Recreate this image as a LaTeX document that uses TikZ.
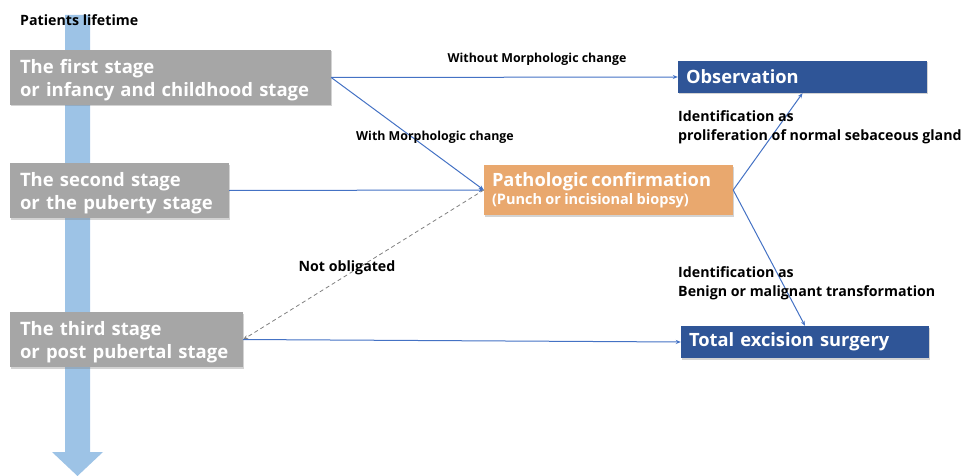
\documentclass[tikz,border=0pt]{standalone}
\usepackage{fontspec}
\setmainfont{Open Sans}
\usetikzlibrary{arrows.meta,shadows}
\definecolor{lineblue}{HTML}{4472C4}
\definecolor{lightblue}{HTML}{9DC3E6}
\definecolor{stagegray}{HTML}{A6A6A6}
\definecolor{navy}{HTML}{2F5597}
\definecolor{orangebox}{HTML}{E9A86E}
\newcommand{\topstrut}{\rule{0pt}{19pt}}
\tikzset{
  stagebox/.style={fill=stagegray, text=white, font=\bfseries\fontsize{18.5}{23}\selectfont, align=left, inner xsep=10pt, inner ysep=0pt, anchor=center, drop shadow={shadow xshift=1pt, shadow yshift=-1.5pt, opacity=0.35}},
  resbox/.style={fill=navy, text=white, font=\bfseries\fontsize{18.3}{20}\selectfont, align=left, inner xsep=8pt, inner ysep=0pt, drop shadow={shadow xshift=1pt, shadow yshift=-1.5pt, opacity=0.35}},
  pathbox/.style={fill=orangebox, text=white, align=left, inner xsep=8pt, inner ysep=0pt, drop shadow={shadow xshift=1pt, shadow yshift=-1.5pt, opacity=0.35}},
  lbl/.style={font=\bfseries\fontsize{14.2}{19}\selectfont, align=left, inner sep=0pt},
  slbl/.style={font=\bfseries\fontsize{12.4}{15}\selectfont, align=left, inner sep=0pt},
  conn/.style={draw=lineblue, line width=1pt, -{Stealth[length=5pt,width=4pt]}},
  dconn/.style={draw=gray, line width=0.8pt, dashed, dash pattern=on 4pt off 3pt, -{Stealth[length=5pt,width=4pt]}}
}
\begin{document}
\begin{tikzpicture}[x=1pt,y=-1pt]
\useasboundingbox (0,0) rectangle (966,476);
% lifetime arrow
\fill[lightblue] (65,15) -- (90,15) -- (90,452) -- (103,452) -- (77.5,476) -- (52,452) -- (65,452) -- cycle;
\node[lbl, anchor=west] (life) at (20,20) {Patients lifetime};
% stage boxes
\node[stagebox, minimum width=321pt, minimum height=55pt, text width=301pt] (s1) at (170.5,77.5) {\topstrut The first stage\\or infancy and childhood stage};
\node[stagebox, minimum width=219pt, minimum height=55pt, text width=199pt] (s2) at (119.5,190.5) {\topstrut The second stage\\or the puberty stage};
\node[stagebox, minimum width=233pt, minimum height=55pt, text width=213pt] (s3) at (126.5,339.5) {\topstrut The third stage\\or post pubertal stage};
% result boxes
\node[resbox, minimum width=249pt, minimum height=32pt, text width=233pt] (obs) at (802.5,77) {Observation};
\node[resbox, minimum width=248pt, minimum height=32pt, text width=232pt] (tot) at (805,342) {Total excision surgery};
\node[pathbox, minimum width=249pt, minimum height=50pt, text width=233pt] (path) at (608.5,190) {{\bfseries\fontsize{18.3}{20}\selectfont Pathologic confirmation}\\[2pt]{\bfseries\fontsize{14.5}{16}\selectfont (Punch or incisional biopsy)}};
% connectors
\draw[conn] (s1.east) -- (obs.west);
\draw[conn] (s1.east) -- (path.west);
\draw[conn] (s2.east) -- (path.west);
\draw[dconn] (path.west) -- (s3.east);
\draw[conn] (s3.east) -- (tot.west);
\draw[conn] (path.east) -- (obs.south);
\draw[conn] (path.east) -- (tot.north);
% labels
\node[slbl] (l1) at (537,59) {Without Morphologic change};
\node[slbl] (l2) at (435,137) {With Morphologic change};
\node[lbl] (l3) at (347,268) {Not obligated};
\node[lbl, anchor=west] (l4) at (678,127.5) {Identification as\\proliferation of normal sebaceous gland};
\node[lbl, anchor=west] (l5) at (678,283.5) {Identification as\\Benign or malignant transformation};
\end{tikzpicture}
\end{document}
